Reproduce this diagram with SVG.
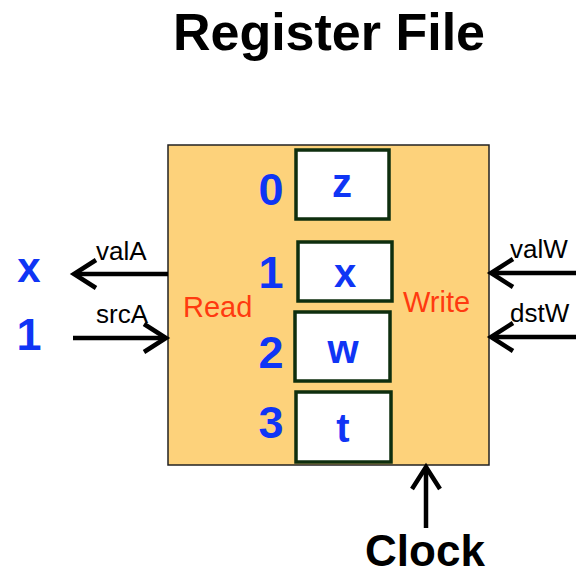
<svg xmlns="http://www.w3.org/2000/svg" width="576" height="576" viewBox="0 0 576 576">
<style>
.t{font-family:"Liberation Sans",Arial,sans-serif}
.title{font-size:52px;font-weight:bold;fill:#000}
.num{font-size:45px;font-weight:bold;fill:#0F35F5;text-anchor:middle}
.val{font-size:40px;font-weight:bold;fill:#0F35F5;text-anchor:middle}
.rw{font-size:29px;fill:#FF3A10}
.sig{font-size:26px;fill:#000}
.reg{fill:#fff;stroke:#0E2E0E;stroke-width:3.5}
.ln{stroke:#000;stroke-width:4.5;fill:none}
.hd{stroke:#000;stroke-width:4.5;fill:none;stroke-linecap:butt;stroke-linejoin:miter}
</style>
<rect width="576" height="576" fill="#fff"/>
<text class="t title" x="329" y="50" text-anchor="middle">Register File</text>
<g id="regfile">
<rect x="168" y="145" width="321" height="320" fill="#FDD27B" stroke="#222" stroke-width="1.5"/>
<text class="t rw" x="183" y="317">Read</text>
<text class="t rw" x="403" y="312">Write</text>
</g>
<g id="reg0">
<rect class="reg" x="296" y="150" width="93" height="69"/>
<text class="t num" x="271" y="205">0</text>
<text class="t val" x="342" y="197">z</text>
</g>
<g id="reg1">
<rect class="reg" x="298" y="242" width="94" height="59"/>
<text class="t num" x="271" y="288">1</text>
<text class="t val" x="345" y="287">x</text>
</g>
<g id="reg2">
<rect class="reg" x="295" y="312" width="95" height="69"/>
<text class="t num" x="271" y="368">2</text>
<text class="t val" x="343" y="363">w</text>
</g>
<g id="reg3">
<rect class="reg" x="296" y="392" width="95" height="70"/>
<text class="t num" x="271" y="438">3</text>
<text class="t val" x="343" y="442">t</text>
</g>
<g id="outA">
<text class="t val" x="29" y="282" style="font-size:42px">x</text>
<text class="t sig" x="96" y="260">valA</text>
</g>
<g id="inA">
<text class="t num" x="29" y="350">1</text>
<text class="t sig" x="96" y="323">srcA</text>
</g>
<g id="inW">
<text class="t sig" x="510" y="258">valW</text>
<text class="t sig" x="510" y="322">dstW</text>
</g>
<g id="clock">
<text class="t" x="425" y="566" text-anchor="middle" style="font-size:44px;font-weight:bold">Clock</text>
</g>
<g id="connectors">
<line class="ln" x1="168" y1="274" x2="75" y2="274"/>
<polyline class="hd" points="96,260 74,274 96,288"/>
<line class="ln" x1="73" y1="338" x2="165" y2="338"/>
<polyline class="hd" points="144,324 166,338 144,352"/>
<line class="ln" x1="576" y1="273" x2="493" y2="273"/>
<polyline class="hd" points="513,259 491,273 513,287"/>
<line class="ln" x1="576" y1="337" x2="493" y2="337"/>
<polyline class="hd" points="513,323 491,337 513,351"/>
<line class="ln" x1="426" y1="528" x2="426" y2="469"/>
<polyline class="hd" points="412,489 426,467 440,489"/>
</g>
</svg>
